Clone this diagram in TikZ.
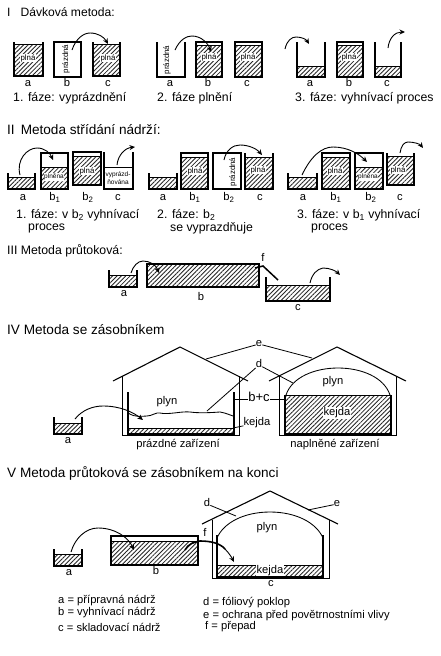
\documentclass[tikz,border=0pt]{standalone}
\usepackage{fontspec}
\setmainfont{Liberation Sans}
\usetikzlibrary{arrows.meta,patterns.meta}

\tikzset{
  wall/.style={black, line width=1.1pt},
  thin wall/.style={black, line width=0.85pt},
  hatched/.style={pattern={Lines[angle=45,distance=3.1pt,line width=0.85pt]}, pattern color=black!85},
  flow/.style={black, line width=0.9pt, -{Stealth[length=5.5pt,width=5pt]}},
  leader/.style={black, line width=0.8pt},
  heading/.style={anchor=west, inner sep=0pt, font=\fontsize{13.6}{15}\selectfont},
  phasetext/.style={anchor=west, inner sep=0pt, font=\fontsize{12.3}{14}\selectfont},
  tankname/.style={inner sep=0pt, text height=8pt, text depth=2.5pt, font=\fontsize{11.2}{13}\selectfont},
  tanktext/.style={inner sep=0.6pt, fill=white, font=\fontsize{7.9}{9}\selectfont},
  smalltext/.style={inner sep=0.5pt, fill=white, align=center, font=\fontsize{6.5}{7.5}\selectfont},
  legendtext/.style={anchor=west, inner sep=0pt, font=\fontsize{11.2}{13}\selectfont}
}

% x1, x2, top, level, bottom
\newcommand{\opentank}[5]{
  \fill[hatched] (#1,#4) rectangle (#2,#5);
  \draw[thin wall] (#1,#4) -- (#2,#4);
  \draw[wall] (#1,#3) -- (#1,#5) -- (#2,#5) -- (#2,#3);
}
\newcommand{\closedtank}[5]{
  \fill[hatched] (#1,#4) rectangle (#2,#5);
  \draw[thin wall] (#1,#4) -- (#2,#4);
  \draw[wall] (#1,#3) rectangle (#2,#5);
}

\begin{document}
\begin{tikzpicture}[x=1pt, y=-1pt]
  \useasboundingbox (0,0) rectangle (440,656);
  \fill[white] (0,0) rectangle (440,656);

  % I
  \node[heading, font=\fontsize{12.1}{14}\selectfont] (t1) at (7,12) {I\hspace{10pt}Dávková metoda:};
  \opentank{14}{43}{42}{44}{76}
  \node[tanktext] (p1a) at (28,58) {plná};
  \closedtank{54}{81}{42}{77}{77}
  \node[tanktext, rotate=90] (p1b) at (66,59) {prázdná};
  \opentank{93}{120}{42}{44}{76}
  \node[tanktext] (p1c) at (108,58) {plná};
  \draw[flow] (72,50) .. controls (76,38) and (84,33) .. (90,33) .. controls (98,33) and (104,37) .. (108,44);
  \node[tankname] (n1a) at (28,84) {a};
  \node[tankname] (n1b) at (67,84) {b};
  \node[tankname] (n1c) at (108,84) {c};
  \node[phasetext] (f1) at (13,98) {1. fáze: vyprázdnění};

  \opentank{157}{185}{42}{77}{77}
  \node[tanktext, rotate=90] (p2a) at (167,60) {prázdná};
  \closedtank{196}{222}{42}{45}{77}
  \node[tanktext] (p2b) at (209,57) {plná};
  \closedtank{235}{262}{42}{45}{77}
  \node[tanktext] (p2c) at (248,57) {plná};
  \draw[flow] (175,50) .. controls (180,39) and (187,36) .. (192,36) .. controls (201,36) and (208,43) .. (211,52);
  \node[tankname] (n2a) at (170,84) {a};
  \node[tankname] (n2b) at (208,84) {b};
  \node[tankname] (n2c) at (247,84) {c};
  \node[phasetext] (f2) at (157,98) {2. fáze plnění};

  \opentank{297}{325}{42}{66}{77}
  \closedtank{337}{363}{42}{45}{77}
  \node[tanktext] (p3b) at (349,57) {plná};
  \opentank{375}{401}{42}{66}{77}
  \draw[flow] (285,49) .. controls (287,40) and (292,37) .. (296,37) .. controls (301,37) and (306,39) .. (309,44);
  \draw[flow] (388,48) .. controls (389,38) and (395,32) .. (405,32);
  \node[tankname] (n3a) at (310,84) {a};
  \node[tankname] (n3b) at (349,84) {b};
  \node[tankname] (n3c) at (387,84) {c};
  \node[phasetext] (f3) at (295,98) {3. fáze: vyhnívací proces};

  % II
  \node[heading] (t2) at (7,130) {II\hspace{6pt}Metoda střídání nádrží:};
  \opentank{8}{35}{173}{177}{189}
  \closedtank{41}{68}{153}{167}{189}
  \node[smalltext] (q1b) at (54,177) {plněna};
  \closedtank{73}{101}{152}{156}{185}
  \node[tanktext] (q1d) at (87,171) {plná};
  \opentank{104}{133}{152}{167}{189}
  \fill[white] (105,168) rectangle (132,188);
  \node[smalltext] (q1c) at (118,178) {vyprázd-\\ňována};
  \draw[flow] (20,175) .. controls (16,160) and (27,148) .. (37,148) .. controls (45,148) and (50,153) .. (53,160);
  \draw[flow] (117,165) .. controls (118,155) and (125,148) .. (135,147);
  \node[tankname] (m1a) at (23,198) {a};
  \node[tankname] (m1b) at (55,198) {b\textsubscript{1}};
  \node[tankname] (m1d) at (88,198) {b\textsubscript{2}};
  \node[tankname] (m1c) at (118,198) {c};
  \node[phasetext] (g1) at (16,215) {1. fáze: v b\textsubscript{2} vyhnívací};
  \node[phasetext] (h1) at (28,228) {proces};

  \opentank{149}{177}{173}{177}{189}
  \closedtank{181}{208}{153}{157}{189}
  \node[tanktext] (q2b) at (195,171) {plná};
  \closedtank{213}{241}{153}{189}{189}
  \node[tanktext, rotate=90] (q2d) at (233,172) {prázdná};
  \opentank{245}{273}{153}{157}{189}
  \node[tanktext] (q2c) at (258,170) {plná};
  \draw[flow] (224,160) .. controls (226,150) and (233,145) .. (240,145) .. controls (249,145) and (257,149) .. (262,155);
  \node[tankname] (m2a) at (163,198) {a};
  \node[tankname] (m2b) at (195,198) {b\textsubscript{1}};
  \node[tankname] (m2d) at (229,198) {b\textsubscript{2}};
  \node[tankname] (m2c) at (260,198) {c};
  \node[phasetext] (g2) at (157,215) {2. fáze: b\textsubscript{2}};
  \node[phasetext] (h2) at (170,228) {se vyprazdňuje};

  \opentank{288}{317}{173}{177}{189}
  \closedtank{322}{350}{153}{157}{189}
  \node[tanktext] (q3b) at (335,171) {plná};
  \closedtank{355}{383}{153}{167}{189}
  \node[smalltext] (q3d) at (368,177) {plněna};
  \opentank{387}{414}{153}{156}{185}
  \node[tanktext] (q3c) at (398,170) {plná};
  \draw[flow] (302,175) .. controls (311,156) and (322,147) .. (333,147) .. controls (348,147) and (359,154) .. (367,162);
  \draw[flow] (400,153) .. controls (401,146) and (404,142) .. (408,142) .. controls (414,142) and (420,144) .. (423,148);
  \node[tankname] (m3a) at (303,198) {a};
  \node[tankname] (m3b) at (336,198) {b\textsubscript{1}};
  \node[tankname] (m3d) at (371,198) {b\textsubscript{2}};
  \node[tankname] (m3c) at (400,198) {c};
  \node[phasetext] (g3) at (297,215) {3. fáze: v b\textsubscript{1} vyhnívací};
  \node[phasetext] (h3) at (311,228) {proces};

  % III
  \node[heading, font=\fontsize{12.3}{14}\selectfont] (t3) at (7,251) {III Metoda průtoková:};
  \opentank{109}{137}{270}{275}{287}
  \closedtank{147}{259}{264}{264}{287}
  \draw[line width=1.4pt] (147,264) -- (259,264);
  \opentank{266}{330}{277}{285}{301}
  \draw[line width=1.5pt] (255,268) -- (263,266) -- (278,280);
  \draw[flow] (131,273) .. controls (133,266) and (138,261) .. (143,261) .. controls (150,261) and (156,265) .. (159,273);
  \draw[flow] (310,283) .. controls (312,274) and (317,269) .. (323,268) .. controls (330,268) and (336,271) .. (340,275);
  \node[tankname] (r1) at (124,294) {a};
  \node[tankname] (r2) at (201,298) {b};
  \node[tankname] (r3) at (298,308) {c};
  \node[tankname] (r4) at (263,259) {f};

  % IV
  \node[heading] (t4) at (7,330) {IV Metoda se zásobníkem};
  \opentank{54}{82}{417}{423}{434}
  \node[tankname] (s1) at (68,441) {a};
  \draw[wall] (113,381) -- (180,347) -- (248,381);
  \draw[thin wall] (122,376) -- (122,435) -- (239,435) -- (239,376);
  \fill[hatched] (128,428) rectangle (234,433);
  \draw[thin wall] (128,428) -- (234,428);
  \draw[line width=1.2pt] (128,392) -- (128,434) -- (234,434) -- (234,392);
  \draw[thin wall] (128,413) .. controls (136,418) and (142,416) .. (147,416) .. controls (152,416) and (156,412) .. (160,413) .. controls (168,415) and (182,411) .. (190,412) .. controls (198,413) and (206,413) .. (220,412) .. controls (226,413) and (230,415) .. (233,416);
  \draw[flow] (75,419) .. controls (82,410) and (93,406) .. (103,406) .. controls (120,406) and (133,412) .. (143,420);
  \node[tankname] (s2) at (167,402) {plyn};
  \node[tankname] (s3) at (178,445) {prázdné zařízení};

  \draw[wall] (269,381) -- (337,347) -- (406,381);
  \draw[thin wall] (279,376) -- (279,435) -- (396,435) -- (396,376);
  \fill[hatched] (285,395) rectangle (391,434);
  \draw[thin wall] (286,395) -- (390,395);
  \draw[line width=1.4pt] (285,395) -- (285,434) -- (391,434) -- (391,395);
  \draw[thin wall] (286,395) .. controls (292,377) and (315,368) .. (338,368) .. controls (361,368) and (384,377) .. (390,395);
  \node[tankname] (s4) at (333,382) {plyn};
  \node[tanktext, font=\fontsize{11.2}{13}\selectfont] (s5) at (337,413) {kejda};
  \node[tankname] (s6) at (335,445) {naplněné zařízení};

  \node[tankname] (e4) at (259,344) {e};
  \node[tankname] (d4) at (259,365) {d};
  \node[tankname, font=\fontsize{13}{15}\selectfont] (bc) at (259,399) {b+c};
  \node[tankname] (k4) at (257,423) {kejda};
  \draw[leader] (e4) -- (206,359);
  \draw[leader] (e4) -- (312,358);
  \draw[leader] (d4) -- (207,411);
  \draw[leader] (d4) -- (293,383);
  \draw[leader] (bc) -- (234,399);
  \draw[leader] (bc) -- (285,399);
  \draw[leader] (k4) -- (233,428);

  % V
  \node[heading] (t5) at (7,473) {V Metoda průtoková se zásobníkem na konci};
  \opentank{54}{82}{549}{554}{566}
  \closedtank{111}{198}{536}{541}{565}
  \node[tankname] (u1) at (69,573) {a};
  \node[tankname] (u2) at (156,572) {b};
  \draw[flow] (71,552) .. controls (75,538) and (86,528) .. (98,528) .. controls (115,528) and (128,537) .. (134,550);

  \draw[wall] (202,524) -- (270,491) -- (338,524);
  \draw[thin wall] (212,520) -- (212,578) -- (329,578) -- (329,520);
  \fill[hatched] (217,565) rectangle (323,577);
  \draw[thin wall] (217,565) -- (323,565);
  \draw[thin wall] (217,538) .. controls (224,522) and (245,512) .. (270,512) .. controls (295,512) and (316,522) .. (323,538);
  \node[tankname] (u3) at (267,528) {plyn};
  \node[tanktext, inner sep=0.4pt, font=\fontsize{11.2}{13}\selectfont] (u4) at (270,571) {kejda};
  \draw[line width=1.2pt] (217,535) -- (217,577) -- (323,577) -- (323,535);
  \node[tankname] (u5) at (271,584) {c};
  \node[tankname] (u6) at (205,534) {f};
  \draw[line width=1.6pt] (185,550) .. controls (188,544) and (194,542) .. (200,541) .. controls (210,541) and (220,543) .. (225,549);
  \draw[flow] (225,549) .. controls (229,553) and (232,558) .. (234,562);
  \node[tankname] (d5) at (207,504) {d};
  \node[tankname] (e5) at (337,504) {e};
  \draw[leader] (d5) -- (236,516);
  \draw[leader] (e5) -- (308,510);

  % labels
  \node[legendtext] (l1) at (58,601) {a = přípravná nádrž};
  \node[legendtext] (l2) at (58,613) {b = vyhnívací nádrž};
  \node[legendtext] (l3) at (58,627) {c = skladovací nádrž};
  \node[legendtext] (l4) at (203,603) {d = fóliový poklop};
  \node[legendtext] (l5) at (203,616) {e = ochrana před povětrnostními vlivy};
  \node[legendtext] (l6) at (205,627) {f = přepad};
\end{tikzpicture}
\end{document}
